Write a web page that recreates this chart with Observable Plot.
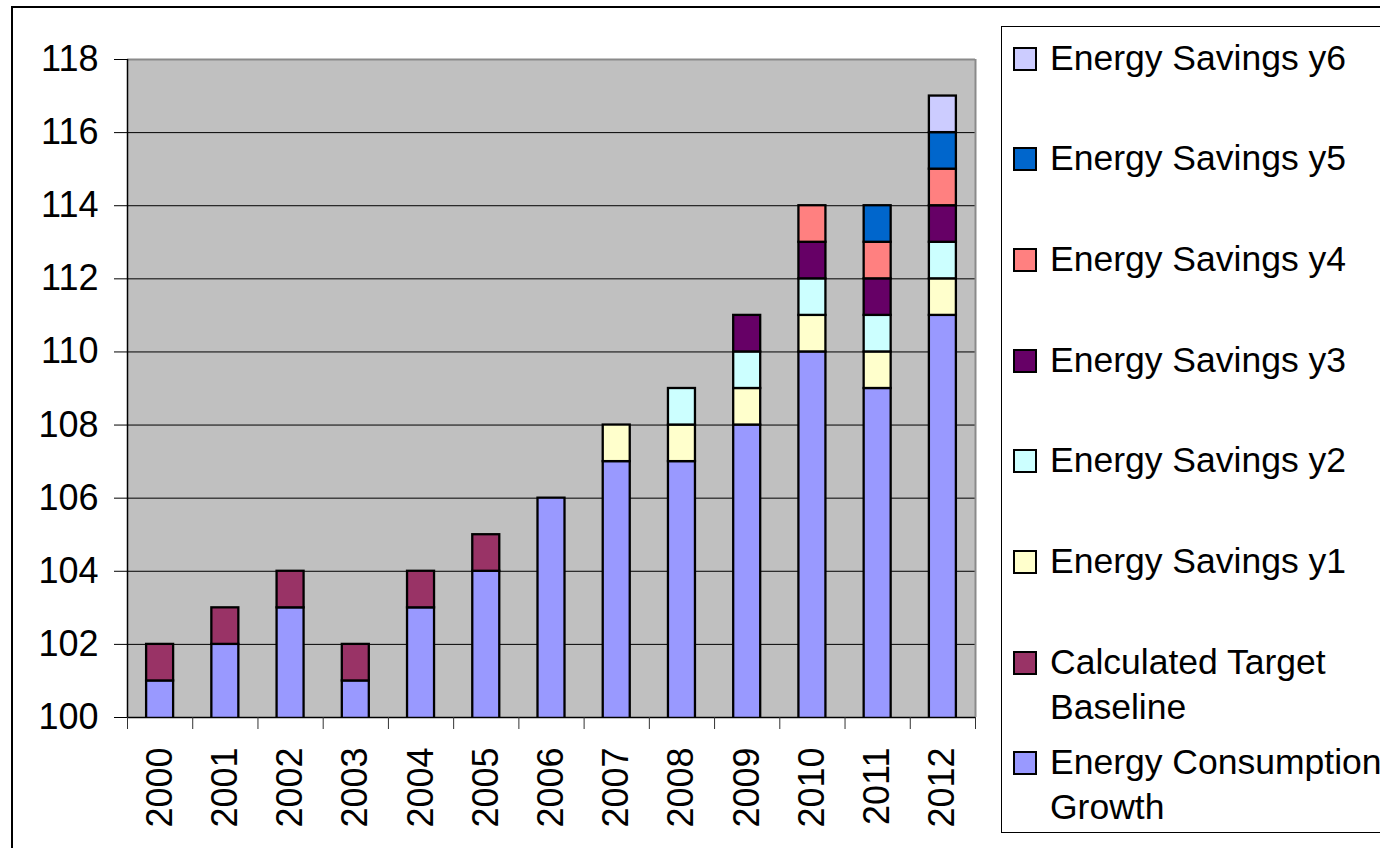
<!DOCTYPE html>
<html>
<head>
<meta charset="utf-8">
<script src="https://cdn.jsdelivr.net/npm/d3@7"></script>
<script src="https://cdn.jsdelivr.net/npm/@observablehq/plot@0.6"></script>
<style>
  html, body { margin: 0; padding: 0; background: #fff; }
  #wrap { position: relative; width: 1380px; height: 848px; overflow: hidden; font-family: "Liberation Sans", Arial, sans-serif; }
  #outer { position: absolute; left: 11px; top: 6px; width: 1400px; height: 900px; border-top: 2px solid #000; border-left: 2px solid #000; }
  #chart { position: absolute; left: 0; top: 0; }
  #legend { position: absolute; left: 1001px; top: 26px; width: 400px; height: 805px; border: 1.5px solid #000; background: #fff; }
  .item { position: absolute; left: 0; font-size: 35.5px; line-height: 45px; color: #000; }
  .sw { position: absolute; left: 11px; top: 11px; width: 20px; height: 20px; border: 2px solid #000; }
  .lbl { position: absolute; left: 48px; top: 0; white-space: nowrap; }
</style>
</head>
<body>
<div id="wrap">
  <div id="outer"></div>
  <div id="chart"></div>
  <div id="legend"></div>
</div>
<script>
const years = [2000, 2001, 2002, 2003, 2004, 2005, 2006, 2007, 2008, 2009, 2010, 2011, 2012];
const consumption = [101, 102, 103, 101, 103, 104, 106, 107, 107, 108, 110, 109, 111];
const targetBaseline = [1, 1, 1, 1, 1, 1, 0, 0, 0, 0, 0, 0, 0];
const savingsY1 = [0, 0, 0, 0, 0, 0, 0, 1, 1, 1, 1, 1, 1];
const savingsY2 = [0, 0, 0, 0, 0, 0, 0, 0, 1, 1, 1, 1, 1];
const savingsY3 = [0, 0, 0, 0, 0, 0, 0, 0, 0, 1, 1, 1, 1];
const savingsY4 = [0, 0, 0, 0, 0, 0, 0, 0, 0, 0, 1, 1, 1];
const savingsY5 = [0, 0, 0, 0, 0, 0, 0, 0, 0, 0, 0, 1, 1];
const savingsY6 = [0, 0, 0, 0, 0, 0, 0, 0, 0, 0, 0, 0, 1];
const seriesNames = ["Energy Consumption Growth", "Calculated Target Baseline", "Energy Savings y1", "Energy Savings y2", "Energy Savings y3", "Energy Savings y4", "Energy Savings y5", "Energy Savings y6"];
const seriesColors = ["#9999FF", "#993366", "#FFFFCC", "#CCFFFF", "#660066", "#FF8080", "#0066CC", "#CCCCFF"];
const yTicks = [100, 102, 104, 106, 108, 110, 112, 114, 116, 118];

const seriesValues = [consumption, targetBaseline, savingsY1, savingsY2, savingsY3, savingsY4, savingsY5, savingsY6];
const table = [];
seriesNames.forEach((name, si) => {
  years.forEach((yr, i) => {
    const v = seriesValues[si][i];
    if (v > 0) table.push({year: yr, series: name, value: v});
  });
});
const boundaries = years.map(y => y - 0.5).concat([years[years.length - 1] + 0.5]);
const halfBar = 0.207;

const chart = Plot.plot({
  width: 1000,
  height: 848,
  marginLeft: 127,
  marginRight: 25,
  marginTop: 59,
  marginBottom: 131,
  style: {fontFamily: "'Liberation Sans', Arial, sans-serif", fontSize: "36px", background: "transparent", overflow: "visible", color: "#000"},
  x: {type: "linear", domain: [boundaries[0], boundaries[boundaries.length - 1]]},
  y: {domain: [100, 118]},
  color: {domain: seriesNames, range: seriesColors},
  marks: [
    Plot.frame({fill: "#C0C0C0", stroke: null}),
    Plot.ruleY(yTicks.filter(t => t > 100 && t < 118), {stroke: "#000", strokeWidth: 1}),
    Plot.rectY(table, Plot.stackY({
      x1: d => d.year - halfBar,
      x2: d => d.year + halfBar,
      y: "value",
      z: "series",
      fill: "series",
      order: seriesNames,
      stroke: "#000",
      strokeWidth: 2.3,
      clip: true
    })),
    Plot.ruleY([118], {stroke: "#8a8a8a", strokeWidth: 2}),
    Plot.ruleX([boundaries[boundaries.length - 1]], {stroke: "#8a8a8a", strokeWidth: 2}),
    Plot.ruleY([100], {stroke: "#000", strokeWidth: 1.5}),
    Plot.ruleX([boundaries[0]], {stroke: "#000", strokeWidth: 1.5}),
    Plot.axisY({ticks: yTicks, tickSize: 13, tickPadding: 16, fontSize: 36, label: null, tickFormat: d => String(d)}),
    Plot.axisX({ticks: boundaries, tickSize: 12, tickFormat: () => "", label: null, stroke: "#333"}),
    Plot.axisX({ticks: years, tickSize: 0, tickPadding: 30, tickRotate: -90, fontSize: 36, label: null, tickFormat: d => String(d)})
  ]
});
document.getElementById("chart").appendChild(chart);

// Legend (reverse order, as in the reference)
const legend = document.getElementById("legend");
const order = seriesNames.map((n, i) => i).reverse();
const legendLabels = {
  "Calculated Target Baseline": "Calculated Target<br>Baseline",
  "Energy Consumption Growth": "Energy Consumption<br>Growth"
};
order.forEach((si, k) => {
  const div = document.createElement("div");
  div.className = "item";
  div.style.top = (58 - 27 - 22.5 + k * 100.7) + "px";
  const sw = document.createElement("div");
  sw.className = "sw";
  sw.style.background = seriesColors[si];
  const lbl = document.createElement("div");
  lbl.className = "lbl";
  lbl.innerHTML = legendLabels[seriesNames[si]] || seriesNames[si];
  div.appendChild(sw);
  div.appendChild(lbl);
  legend.appendChild(div);
});
</script>
</body>
</html>
